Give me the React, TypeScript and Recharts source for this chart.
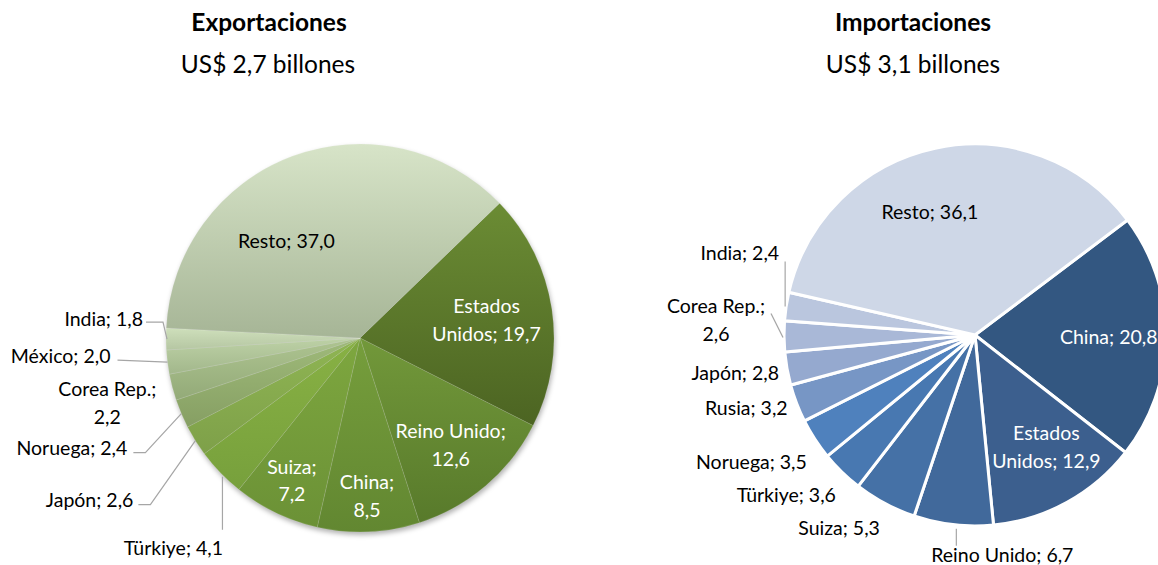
import React from 'react';
import { Cell, Pie, PieChart } from 'recharts';

// Exportaciones (% del total), clockwise from the EEUU slice
const expNames = ['Estados Unidos', 'Reino Unido', 'China', 'Suiza', 'Türkiye', 'Japón', 'Noruega', 'Corea Rep.', 'México', 'India', 'Resto'];
const expValues = [19.7, 12.6, 8.5, 7.2, 4.1, 2.6, 2.4, 2.2, 2.0, 1.8, 37.0];

// Importaciones (% del total), clockwise from the China slice
const impNames = ['China', 'Estados Unidos', 'Reino Unido', 'Suiza', 'Türkiye', 'Noruega', 'Rusia', 'Japón', 'Corea Rep.', 'India', 'Resto'];
const impValues = [20.8, 12.9, 6.7, 5.3, 3.6, 3.5, 3.2, 2.8, 2.6, 2.4, 36.1];

const expData = expNames.map((name, i) => ({ name, value: expValues[i] }));
const impData = impNames.map((name, i) => ({ name, value: impValues[i] }));
// whole export pie, used only for its soft shadow
const expTotal = [{ name: 'total', value: expValues.reduce((s, v) => s + v, 0) }];

// top / bottom gradient colours of each export slice
const expColors: [string, string][] = [
  ['#6b8c34', '#4c6422'],
  ['#72983a', '#587a2b'],
  ['#769e3c', '#628731'],
  ['#7ea73f', '#6b9136'],
  ['#88b144', '#77a03c'],
  ['#8fb553', '#7ea049'],
  ['#9fba7a', '#869f63'],
  ['#aec491', '#93aa78'],
  ['#bdd1a6', '#a2b78b'],
  ['#cedfbb', '#b5c6a2'],
  ['#d7e4c8', '#a6b596'],
];

const impColors = ['#335781', '#3c5f8e', '#41699b', '#4571a6', '#4878b1', '#4f81bd', '#7796c5', '#95a9cf', '#a9b8d7', '#bac6de', '#ced7e7'];

const FONT = 'Lato, "Open Sans", sans-serif';
const LINE = '#a6a6a6';
const LABEL_SIZE = 19.5;

// label placement: 'in' = inside slice at k * radius, 'out' = text + leader line, offsets from slice edge
type InSpec = { kind: 'in'; k: number; da?: number; color: string; wrap?: 'word' | 'semi' };
type OutSpec = { kind: 'out'; line?: [number, number][]; tx: number; ty: number; anchor: 'end' | 'middle'; wrap?: 'semi' };
type Spec = InSpec | OutSpec;

const expLabels: Record<string, Spec> = {
  'Estados Unidos': { kind: 'in', k: 0.66, color: '#fff', wrap: 'word' },
  'Reino Unido': { kind: 'in', k: 0.72, color: '#fff', wrap: 'semi' },
  China: { kind: 'in', k: 0.81, color: '#fff', wrap: 'semi' },
  Suiza: { kind: 'in', k: 0.81, color: '#fff', wrap: 'semi' },
  Türkiye: { kind: 'out', line: [[2, 4], [2, 57]], tx: -47, ty: 74, anchor: 'middle' },
  Japón: { kind: 'out', line: [[0, 0], [-45, 64], [-57, 64]], tx: -62, ty: 58, anchor: 'end' },
  Noruega: { kind: 'out', line: [[0, 0], [-36, 39], [-48, 39]], tx: -54, ty: 33, anchor: 'end' },
  'Corea Rep.': { kind: 'out', tx: -65, ty: 1, anchor: 'middle', wrap: 'semi' },
  México: { kind: 'out', line: [[0, 0], [-50, -2]], tx: -57, ty: -7, anchor: 'end' },
  India: { kind: 'out', line: [[1, 0], [-3, -17], [-20, -17]], tx: -23, ty: -21, anchor: 'end' },
  Resto: { kind: 'in', k: 0.63, da: 16.5, color: '#000' },
};

const impLabels: Record<string, Spec> = {
  China: { kind: 'in', k: 0.7, color: '#fff' },
  'Estados Unidos': { kind: 'in', k: 0.69, da: 4, color: '#fff', wrap: 'word' },
  'Reino Unido': { kind: 'out', line: [[3, 4], [3, 21]], tx: 49, ty: 29, anchor: 'middle' },
  Suiza: { kind: 'out', tx: -5, ty: 24, anchor: 'end' },
  Türkiye: { kind: 'out', tx: -6, ty: 22, anchor: 'end' },
  Noruega: { kind: 'out', tx: -8, ty: 22, anchor: 'end' },
  Rusia: { kind: 'out', tx: -9, ty: 4, anchor: 'end' },
  Japón: { kind: 'out', tx: -8, ty: 3, anchor: 'end' },
  'Corea Rep.': { kind: 'out', line: [[-1, 1], [-13, -23]], tx: -68, ty: -31, anchor: 'middle', wrap: 'semi' },
  India: { kind: 'out', line: [[-1, 0], [-1, -45]], tx: -7, ty: -54, anchor: 'end' },
  Resto: { kind: 'in', k: 0.69, da: 8, color: '#000' },
};

const fmt = (v: number) => v.toFixed(1).replace('.', ',');

const splitText = (name: string, value: number, wrap?: 'word' | 'semi') => {
  const v = fmt(value);
  if (wrap === 'semi') return [`${name};`, v];
  if (wrap === 'word') {
    const [first, ...rest] = name.split(' ');
    return [first, `${rest.join(' ')}; ${v}`];
  }
  return [`${name}; ${v}`];
};

const RAD = Math.PI / 180;

const makeLabel = (specs: Record<string, Spec>) => (props: any) => {
  const { cx, cy, midAngle, outerRadius, name, value } = props;
  const spec = specs[name];
  if (!spec) return null;
  const lineH = 27.5;
  if (spec.kind === 'in') {
    const a = (midAngle + (spec.da || 0)) * RAD;
    const x = cx + outerRadius * spec.k * Math.cos(a);
    const y = cy - outerRadius * spec.k * Math.sin(a);
    const lines = splitText(name, value, spec.wrap);
    const y0 = y - ((lines.length - 1) * lineH) / 2;
    return (
      <text x={x} y={y0} fill={spec.color} textAnchor="middle" dominantBaseline="central" fontFamily={FONT} fontSize={LABEL_SIZE}>
        {lines.map((l, i) => (
          <tspan key={i} x={x} y={y0 + i * lineH}>{l}</tspan>
        ))}
      </text>
    );
  }
  const ex = cx + outerRadius * Math.cos(midAngle * RAD);
  const ey = cy - outerRadius * Math.sin(midAngle * RAD);
  const lines = splitText(name, value, spec.wrap);
  const x = ex + spec.tx;
  const y = ey + spec.ty;
  return (
    <g>
      {spec.line && (
        <polyline
          points={spec.line.map(([dx, dy]) => `${ex + dx},${ey + dy}`).join(' ')}
          fill="none"
          stroke={LINE}
          strokeWidth={1.2}
        />
      )}
      <text x={x} y={y} fill="#000" textAnchor={spec.anchor} dominantBaseline="central" fontFamily={FONT} fontSize={LABEL_SIZE}>
        {lines.map((l, i) => (
          <tspan key={i} x={x} y={y + i * lineH}>{l}</tspan>
        ))}
      </text>
    </g>
  );
};

const titleStyle: React.CSSProperties = {
  position: 'absolute',
  width: 300,
  textAlign: 'center',
  fontFamily: FONT,
  fontSize: 24.5,
  color: '#000',
  lineHeight: '30px',
};

const App = () => {
  return (
    <div style={{ position: 'fixed', left: 0, top: 0, width: 1158, height: 565, background: '#fff', overflow: 'hidden' }}>
      <div style={{ ...titleStyle, left: 119, top: 7, fontWeight: 700 }}>Exportaciones</div>
      <div style={{ ...titleStyle, left: 118, top: 49 }}>US$ 2,7 billones</div>
      <div style={{ ...titleStyle, left: 763, top: 7, fontWeight: 700 }}>Importaciones</div>
      <div style={{ ...titleStyle, left: 763, top: 49 }}>US$ 3,1 billones</div>
      <div style={{ position: 'absolute', left: 0, top: 0 }}>
        <PieChart width={1158} height={565} margin={{ top: 0, right: 0, bottom: 0, left: 0 }}>
          <defs>
            {expColors.map(([a, b], i) => (
              <linearGradient key={i} id={`exp-g-${i}`} x1="0" y1="0" x2="0" y2="1">
                <stop offset="0%" stopColor={a} />
                <stop offset="100%" stopColor={b} />
              </linearGradient>
            ))}
            <filter id="exp-shadow" x="-10%" y="-10%" width="120%" height="120%">
              <feGaussianBlur stdDeviation="2.5" />
            </filter>
          </defs>
          <Pie
            data={expTotal}
            dataKey="value"
            cx={361}
            cy={341}
            outerRadius={194}
            stroke="none"
            isAnimationActive={false}
          >
            <Cell fill="rgba(0,0,0,0.3)" filter="url(#exp-shadow)" />
          </Pie>
          <Pie
            data={expData}
            dataKey="value"
            nameKey="name"
            cx={360}
            cy={338}
            outerRadius={194}
            startAngle={44}
            endAngle={-316}
            stroke="rgba(255,255,255,0.2)"
            strokeWidth={0.6}
            label={makeLabel(expLabels)}
            labelLine={false}
            isAnimationActive={false}
          >
            {expData.map((d, i) => (
              <Cell key={d.name} fill={`url(#exp-g-${i})`} />
            ))}
          </Pie>
          <Pie
            data={impData}
            dataKey="value"
            nameKey="name"
            cx={975}
            cy={335}
            outerRadius={191}
            startAngle={37}
            endAngle={-323}
            stroke="#fff"
            strokeWidth={3}
            label={makeLabel(impLabels)}
            labelLine={false}
            isAnimationActive={false}
          >
            {impData.map((d, i) => (
              <Cell key={d.name} fill={impColors[i]} />
            ))}
          </Pie>
        </PieChart>
      </div>
    </div>
  );
};

export default App;
